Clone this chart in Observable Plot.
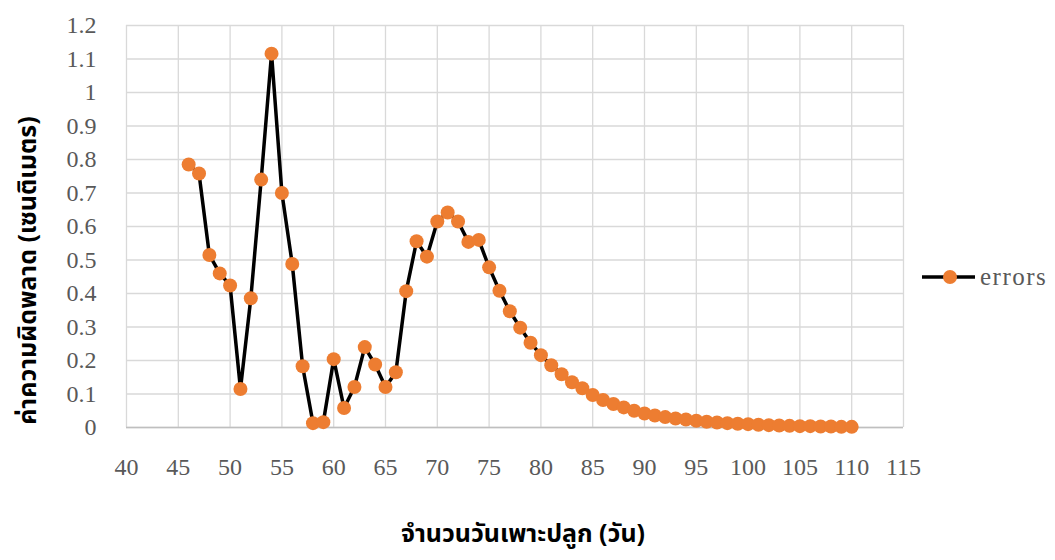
<!DOCTYPE html>
<html>
<head>
<meta charset="utf-8">
<script src="https://cdn.jsdelivr.net/npm/d3@7"></script>
<script src="https://cdn.jsdelivr.net/npm/@observablehq/plot@0.6"></script>
<style>
  html, body { margin: 0; padding: 0; background: #fff; }
  #wrap { position: relative; width: 1055px; height: 560px; }
  #legend { position: absolute; left: 918px; top: 262px; height: 30px; display: flex; align-items: center;
            font-family: "Liberation Serif", serif; font-size: 25px; letter-spacing: 1.5px; color: #595959; }
</style>
</head>
<body>
<div id="wrap">
  <div id="chart"></div>
  <div id="legend">
    <svg width="60" height="30"><line x1="4" x2="57" y1="15" y2="15" stroke="#000" stroke-width="3.5"/><circle cx="32" cy="15" r="7" fill="#ED7D31"/></svg>
    <span style="margin-left:2px; line-height:30px">errors</span>
  </div>
</div>
<script>
// Planting days and the model error for each day
const days = [46, 47, 48, 49, 50, 51, 52, 53, 54, 55, 56, 57, 58, 59, 60, 61, 62, 63, 64, 65,
  66, 67, 68, 69, 70, 71, 72, 73, 74, 75, 76, 77, 78, 79, 80, 81, 82, 83, 84, 85,
  86, 87, 88, 89, 90, 91, 92, 93, 94, 95, 96, 97, 98, 99, 100, 101, 102, 103, 104, 105,
  106, 107, 108, 109, 110];
const errors = [0.785, 0.758, 0.515, 0.460, 0.424, 0.115, 0.386, 0.740, 1.116, 0.700,
  0.488, 0.183, 0.013, 0.016, 0.204, 0.058, 0.121, 0.240, 0.188, 0.121,
  0.165, 0.407, 0.556, 0.510, 0.615, 0.642, 0.615, 0.554, 0.560, 0.478,
  0.408, 0.347, 0.298, 0.253, 0.216, 0.186, 0.159, 0.135, 0.117, 0.097,
  0.082, 0.070, 0.060, 0.050, 0.042, 0.036, 0.031, 0.027, 0.024, 0.020,
  0.017, 0.015, 0.013, 0.011, 0.010, 0.008, 0.007, 0.006, 0.005, 0.004,
  0.004, 0.003, 0.003, 0.002, 0.002];
const xTicks = [40, 45, 50, 55, 60, 65, 70, 75, 80, 85, 90, 95, 100, 105, 110, 115];
const yTicks = [0, 0.1, 0.2, 0.3, 0.4, 0.5, 0.6, 0.7, 0.8, 0.9, 1, 1.1, 1.2];
const xTitle = "จำนวนวันเพาะปลูก (วัน)";
const yTitle = "ค่าความผิดพลาด (เซนติเมตร)";

const rows = days.map((d, i) => ({day: d, error: errors[i]}));
const titleFont = "'Noto Sans Thai', 'Noto Sans Thai UI', Tahoma, 'DejaVu Sans', sans-serif";

const chart = Plot.plot({
  width: 1055,
  height: 560,
  marginLeft: 126,
  marginRight: 152,
  marginTop: 25,
  marginBottom: 133,
  style: {fontFamily: "'Liberation Serif', serif", fontSize: "24px", color: "#595959", background: "#fff"},
  x: {domain: [40, 115]},
  y: {domain: [0, 1.2]},
  marks: [
    Plot.gridX(xTicks, {stroke: "#d9d9d9", strokeOpacity: 1, strokeWidth: 1.3}),
    Plot.gridY(yTicks, {stroke: "#d9d9d9", strokeOpacity: 1, strokeWidth: 1.3}),
    Plot.ruleY([0], {stroke: "#bfbfbf", strokeWidth: 1.5}),
    Plot.axisX(xTicks, {tickSize: 0, tickPadding: 30, label: null, fill: "#595959", fontSize: 24}),
    Plot.axisY(yTicks, {tickSize: 0, tickPadding: 30, label: null, fill: "#595959", fontSize: 24,
      tickFormat: d => String(+d.toFixed(1))}),
    Plot.line(rows, {x: "day", y: "error", stroke: "#000", strokeWidth: 3.5}),
    Plot.dot(rows, {x: "day", y: "error", r: 7, fill: "#ED7D31", stroke: "none"}),
    Plot.text([xTitle], {frameAnchor: "bottom", dx: 8, dy: 114, fontFamily: titleFont,
      fontSize: 25, fontWeight: "bold", fill: "#000"}),
    Plot.text([yTitle], {frameAnchor: "left", textAnchor: "middle", rotate: -90, dx: -99, dy: 44,
      fontFamily: titleFont, fontSize: 25, fontWeight: "bold", fill: "#000"})
  ]
});
document.getElementById("chart").appendChild(chart);
</script>
</body>
</html>
